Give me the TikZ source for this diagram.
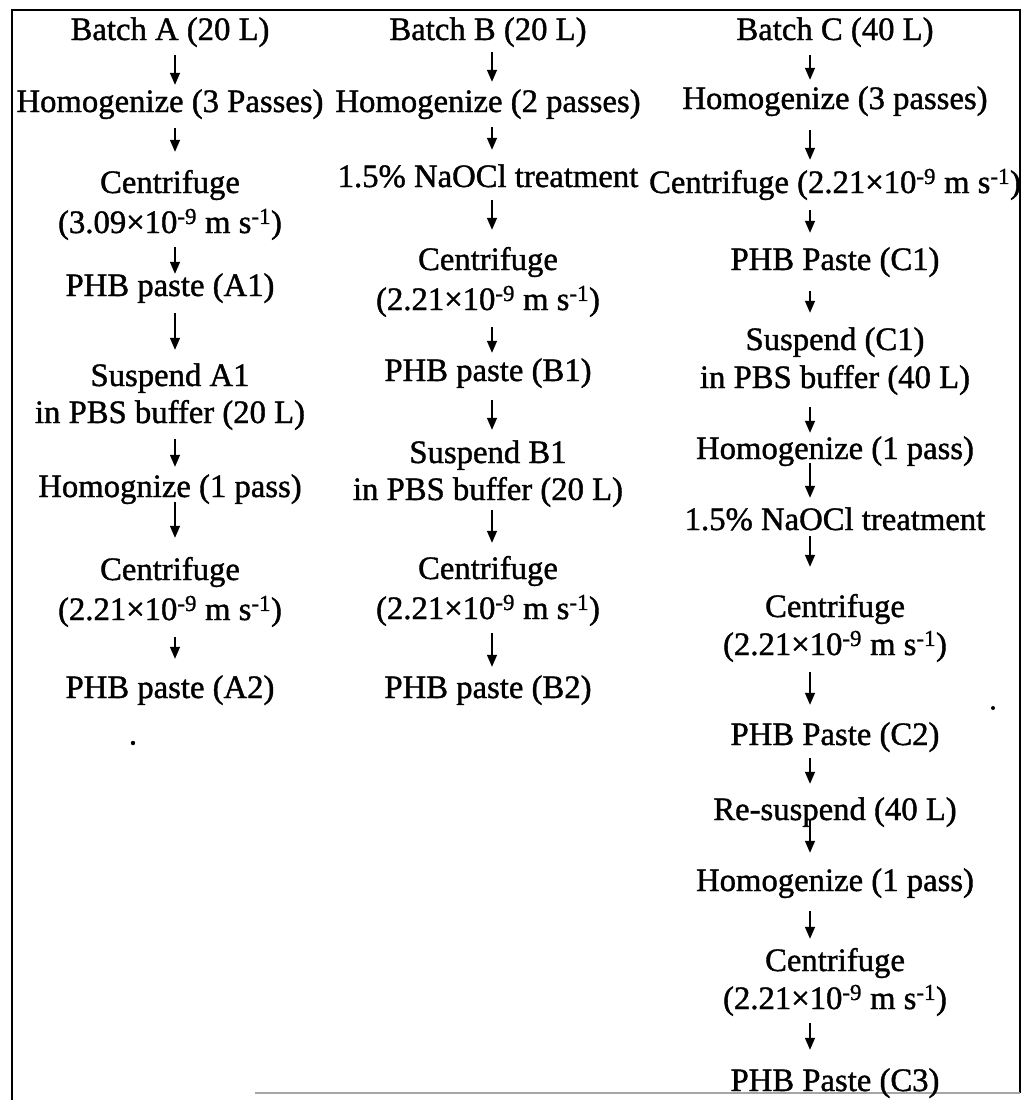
\documentclass[tikz,border=0pt]{standalone}
\usepackage{fontspec}
\setmainfont{Liberation Serif}[FakeBold=1.2]
\usetikzlibrary{arrows.meta}
\newcommand{\twol}[3]{\begin{tabular}[t]{@{}c@{}}#2\\[#1]#3\end{tabular}}
\newcommand{\spd}[1]{(#1×10\textsuperscript{-9} m s\textsuperscript{-1})}
\newcommand{\flow}[5]{\draw[arr, shorten <=#4pt, shorten >=#5pt] (#1.south -| #3) -- (#2.north -| #3);}
\begin{document}
\begin{tikzpicture}[x=1pt,y=-1pt,
  every node/.style={inner sep=0pt, font=\fontsize{32.7}{36}\selectfont},
  lbl/.style={anchor=base, text height=22pt, text depth=6.5pt},
  lbltwo/.style={anchor=base, text height=22pt, text depth=#1},
  arr/.style={line width=1.4pt, -{Triangle[width=10pt,length=12pt]}},
  frame/.style={line width=1.6pt}]
\useasboundingbox (0,0) rectangle (1026,1100);
% frame
\draw[frame] (12,1100) -- (12,10) -- (1020,10) -- (1020,1093);
\draw[line width=1.2pt, gray!70] (255,1093) -- (1020,1093);
\coordinate (ax) at (175,0);
\coordinate (bx) at (492,0);
\coordinate (cx) at (810,0);
% column A
\node[lbl] (a1) at (170,40) {Batch A (20 L)};
\node[lbl] (a2) at (170,112) {Homogenize (3 Passes)};
\node[lbltwo=46.5pt] (a3) at (170,193) {\twol{4pt}{Centrifuge}{\spd{3.09}}};
\node[lbl] (a4) at (170,296) {PHB paste (A1)};
\node[lbltwo=43.5pt] (a5) at (170,386) {\twol{1pt}{Suspend A1}{in PBS buffer (20 L)}};
\node[lbl] (a6) at (170,497) {Homognize (1 pass)};
\node[lbltwo=46.5pt] (a7) at (170,580) {\twol{4pt}{Centrifuge}{\spd{2.21}}};
\node[lbl] (a8) at (170,698) {PHB paste (A2)};
\flow{a1}{a2}{ax}{8.5}{5}
\flow{a2}{a3}{ax}{9.5}{19}
\flow{a3}{a4}{ax}{7.5}{0}
\flow{a4}{a5}{ax}{10.5}{14}
\flow{a5}{a6}{ax}{9.5}{8}
\flow{a6}{a7}{ax}{-1.5}{20}
\flow{a7}{a8}{ax}{10.5}{17}
% column B
\node[lbl] (b1) at (488,40) {Batch B (20 L)};
\node[lbl] (b2) at (488,112) {Homogenize (2 passes)};
\node[lbl] (b3) at (488,187) {1.5\% NaOCl treatment};
\node[lbltwo=46.5pt] (b4) at (488,270) {\twol{4pt}{Centrifuge}{\spd{2.21}}};
\node[lbl] (b5) at (488,381) {PHB paste (B1)};
\node[lbltwo=43.5pt] (b6) at (488,463) {\twol{1pt}{Suspend B1}{in PBS buffer (20 L)}};
\node[lbltwo=46.5pt] (b7) at (488,579) {\twol{4pt}{Centrifuge}{\spd{2.21}}};
\node[lbl] (b8) at (488,698) {PHB paste (B2)};
\flow{b1}{b2}{bx}{5.5}{8}
\flow{b2}{b3}{bx}{8.5}{15}
\flow{b3}{b4}{bx}{6.5}{18}
\flow{b4}{b5}{bx}{10.5}{6}
\flow{b5}{b6}{bx}{12.5}{11}
\flow{b6}{b7}{bx}{3.5}{14}
\flow{b7}{b8}{bx}{7.5}{9}
% column C
\node[lbl] (c1) at (835,40) {Batch C (40 L)};
\node[lbl] (c2) at (835,109) {Homogenize (3 passes)};
\node[lbl] (c3) at (835,193) {Centrifuge \spd{2.21}};
\node[lbl] (c4) at (835,270) {PHB Paste (C1)};
\node[lbltwo=44.5pt] (c5) at (835,350) {\twol{2pt}{Suspend (C1)}{in PBS buffer (40 L)}};
\node[lbl] (c6) at (835,459) {Homogenize (1 pass)};
\node[lbl] (c7) at (835,530) {1.5\% NaOCl treatment};
\node[lbltwo=44.5pt] (c8) at (835,617) {\twol{2pt}{Centrifuge}{\spd{2.21}}};
\node[lbl] (c9) at (835,745) {PHB Paste (C2)};
\node[lbl] (c10) at (835,820) {Re-suspend (40 L)};
\node[lbl] (c11) at (835,891) {Homogenize (1 pass)};
\node[lbltwo=44.5pt] (c12) at (835,971) {\twol{2pt}{Centrifuge}{\spd{2.21}}};
\node[lbl] (c13) at (835,1091) {PHB Paste (C3)};
\flow{c1}{c2}{cx}{8.5}{7}
\flow{c2}{c3}{cx}{14.5}{11}
\flow{c3}{c4}{cx}{10.5}{15}
\flow{c4}{c5}{cx}{14.5}{15}
\flow{c5}{c6}{cx}{12.5}{4}
\flow{c6}{c7}{cx}{-2.5}{10}
\flow{c7}{c8}{cx}{-0.5}{28}
\flow{c8}{c9}{cx}{10.5}{18}
\flow{c9}{c10}{cx}{6.5}{14}
\flow{c10}{c11}{cx}{-6.5}{16}
\flow{c11}{c12}{cx}{13.5}{10}
\flow{c12}{c13}{cx}{7.5}{19}
% specks
\fill (133,743) circle (2.2);
\fill (993,708) circle (2);
\end{tikzpicture}
\end{document}
